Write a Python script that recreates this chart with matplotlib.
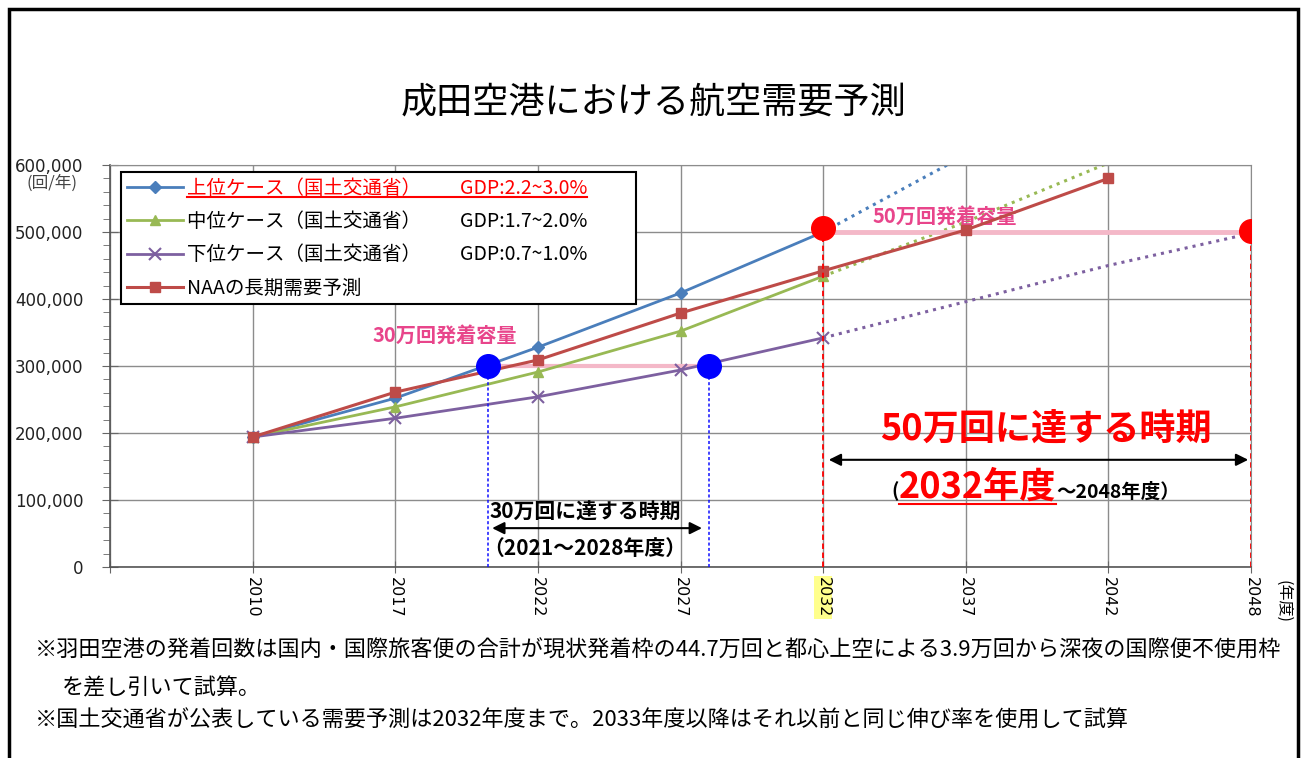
import numpy as np
import matplotlib.pyplot as plt
from matplotlib.lines import Line2D
from matplotlib.patches import Rectangle
from matplotlib.ticker import FuncFormatter, MultipleLocator

plt.rcParams['font.family'] = ['Noto Sans CJK JP', 'DejaVu Sans']

# データ (年度はカテゴリ軸)
years = ['2010', '2017', '2022', '2027', '2032', '2037', '2042', '2048']
x_pos = np.arange(len(years))

upper = [194000, 252000, 328000, 409000, 500000]
middle = [194000, 239000, 291000, 352000, 434000]
lower = [194000, 222000, 254000, 294000, 342000]
naa = [194000, 261000, 309000, 379000, 442000, 503000, 580000]

# 2033年度以降の試算 (点線)
upper_ext = [500000, 615000]
middle_ext = [434000, 515000, 603000]
lower_ext = [342000, 396000, 450000, 498000]

# 発着容量に達する時期
cap30 = 300000
reach30_x = [1.65, 3.2]
cap50 = 500000
reach50_x = [4, 7]
reach50_y = [506000, 502000]

labels = ['上位ケース（国土交通省）　　GDP:2.2~3.0%',
          '中位ケース（国土交通省）　　GDP:1.7~2.0%',
          '下位ケース（国土交通省）　　GDP:0.7~1.0%',
          'NAAの長期需要予測']

c_up, c_mid, c_low, c_naa = '#4a7ebb', '#98b954', '#7d60a0', '#be4b48'
pink = '#e8458b'

W, H = 1308, 758
fig = plt.figure(figsize=(W / 100, H / 100), dpi=100)
ax = fig.add_axes([110 / W, 1 - 567 / H, (1251 - 110) / W, (567 - 165) / H])
ax.set_xlim(-1, 7)
ax.set_ylim(0, 600000)

# 軸・グリッド
ax.set_xticks(np.arange(-1, 8))
ax.set_xticklabels([''] + years, rotation=270, fontsize=11.5, family='DejaVu Sans')
ax.yaxis.set_major_locator(MultipleLocator(100000))
ax.yaxis.set_minor_locator(MultipleLocator(20000))
ax.yaxis.set_major_formatter(FuncFormatter(lambda v, p: f'{int(v):,}'))
for t in ax.get_yticklabels():
    t.set_fontsize(12)
    t.set_family('DejaVu Sans')
    t.set_color('#222222')
ax.grid(True, color='#8c8c8c', lw=1)
ax.set_axisbelow(True)
ax.tick_params(axis='x', direction='inout', length=9, color='#666666', pad=3)
ax.tick_params(axis='y', which='major', direction='inout', length=12, color='#666666', pad=13)
ax.tick_params(axis='y', which='minor', direction='out', length=5, color='#666666')
for s in ['top', 'right']:
    ax.spines[s].set_color('#8c8c8c')
for s in ['left', 'bottom']:
    ax.spines[s].set_color('#555555')
    ax.spines[s].set_linewidth(1.2)
for t in ax.get_xticklabels():
    if t.get_text() == '2032':
        t.set_bbox(dict(facecolor='#ffff8c', edgecolor='none', pad=1))

# 点線の延長
ax.plot(x_pos[4:6], upper_ext, ls=':', lw=2.2, color=c_up)
ax.plot(x_pos[4:7], middle_ext, ls=':', lw=2.2, color=c_mid)
ax.plot(x_pos[4:8], lower_ext, ls=':', lw=2.2, color=c_low)

# 容量ライン
ax.plot(reach30_x, [cap30, cap30], color='#f4b8c8', lw=3, zorder=3)
ax.plot(reach50_x, [cap50, cap50], color='#f4b8c8', lw=3.5, zorder=3)

h1, = ax.plot(x_pos[:5], upper, color=c_up, lw=2, marker='D', ms=6, zorder=4)
h2, = ax.plot(x_pos[:5], middle, color=c_mid, lw=2, marker='^', ms=7, zorder=4)
h3, = ax.plot(x_pos[:5], lower, color=c_low, lw=2, marker='x', ms=8, mew=1.5, zorder=4)
h4, = ax.plot(x_pos[:7], naa, color=c_naa, lw=2.2, marker='s', ms=7, zorder=4)

ax.vlines(reach30_x, 0, cap30, colors='#1010ff', linestyles=(0, (2, 1.5)), lw=1.1, zorder=5)
ax.vlines(reach50_x, 0, reach50_y, colors='#ff0000', linestyles=(0, (3, 2)), lw=1.3, zorder=5)
ax.plot(reach30_x, [cap30, cap30], 'o', color='#0000ff', ms=17, zorder=6)
ax.plot(reach50_x, reach50_y, 'o', color='#ff0000', ms=17, zorder=6)

# 矢印
ax.annotate('', xy=(3.17, 58000), xytext=(1.66, 58000),
            arrowprops=dict(arrowstyle='<|-|>', color='black', lw=1.5, mutation_scale=18))
ax.annotate('', xy=(7, 160000), xytext=(4.02, 160000),
            arrowprops=dict(arrowstyle='<|-|>', color='black', lw=1.5, mutation_scale=18))

ax.text(1.66, 82000, '30万回に達する時期', fontsize=15, fontweight='bold', ha='left', va='center')
ax.text(1.62, 28000, '（2021～2028年度）', fontsize=15, fontweight='bold', ha='left', va='center')
ax.text(1.35, 346000, '30万回発着容量', fontsize=14.5, fontweight='bold', color=pink, ha='center', va='center')
ax.text(4.85, 524000, '50万回発着容量', fontsize=14.5, fontweight='bold', color=pink, ha='center', va='center')
ax.text(5.56, 204000, '50万回に達する時期', fontsize=26, fontweight='bold', color='#ff0000',
        ha='center', va='center')
t2 = ax.text(4.53, 103000, '2032年度', fontsize=26, fontweight='bold', color='#ff0000',
             ha='left', va='baseline')
ax.annotate('(', xy=(0, 0.12), xycoords=t2, fontsize=14, fontweight='bold', ha='right', va='bottom')
ax.annotate('～2048年度）', xy=(1, 0.12), xycoords=t2, fontsize=14, fontweight='bold',
            ha='left', va='bottom')

leg = ax.legend([h1, h2, h3, h4], labels, loc='upper left',
                bbox_to_anchor=(121 / W, 1 - 172 / H - 0.01, (636 - 121) / W, 0.01),
                bbox_transform=fig.transFigure, mode='expand', borderaxespad=0, fontsize=14,
                handlelength=2.9, handletextpad=0.2, labelspacing=0.63,
                borderpad=0.3, fancybox=False, framealpha=1, edgecolor='black')
leg.get_frame().set_linewidth(1.5)
leg.get_texts()[0].set_color('#ff0000')

# タイトル・注記
fig.text(0.5, 1 - 103 / H, '成田空港における航空需要予測', fontsize=26, ha='center', va='center')
fig.text(52 / W, 1 - 183 / H, '(回/年)', fontsize=12, ha='center', va='center', color='#444444')
fig.text(1283 / W, 1 - 580 / H, '(年度)', fontsize=11.5, rotation=270, ha='center', va='top')
fig.text(35 / W, 1 - 651 / H,
         '※羽田空港の発着回数は国内・国際旅客便の合計が現状発着枠の44.7万回と都心上空による3.9万回から深夜の国際便不使用枠',
         fontsize=15.9, ha='left', va='center')
fig.text(62 / W, 1 - 688 / H, 'を差し引いて試算。', fontsize=15.9, ha='left', va='center')
fig.text(35 / W, 1 - 721 / H,
         '※国土交通省が公表している需要予測は2032年度まで。2033年度以降はそれ以前と同じ伸び率を使用して試算',
         fontsize=15.9, ha='left', va='center')

fig.add_artist(Rectangle((9 / W, -0.05), (1298 - 9) / W, 1 - 9 / H + 0.05,
                         transform=fig.transFigure, fill=False, edgecolor='black', lw=2.5))

# 下線
fig.canvas.draw()
for t, col in [(leg.get_texts()[0], '#ff0000'), (t2, '#ff0000')]:
    bb = t.get_window_extent()
    fig.add_artist(Line2D([bb.x0 / W, bb.x1 / W], [(bb.y0 + 2) / H] * 2,
                          transform=fig.transFigure, color=col, lw=1.5))

fig.savefig('out.png', dpi=100)
